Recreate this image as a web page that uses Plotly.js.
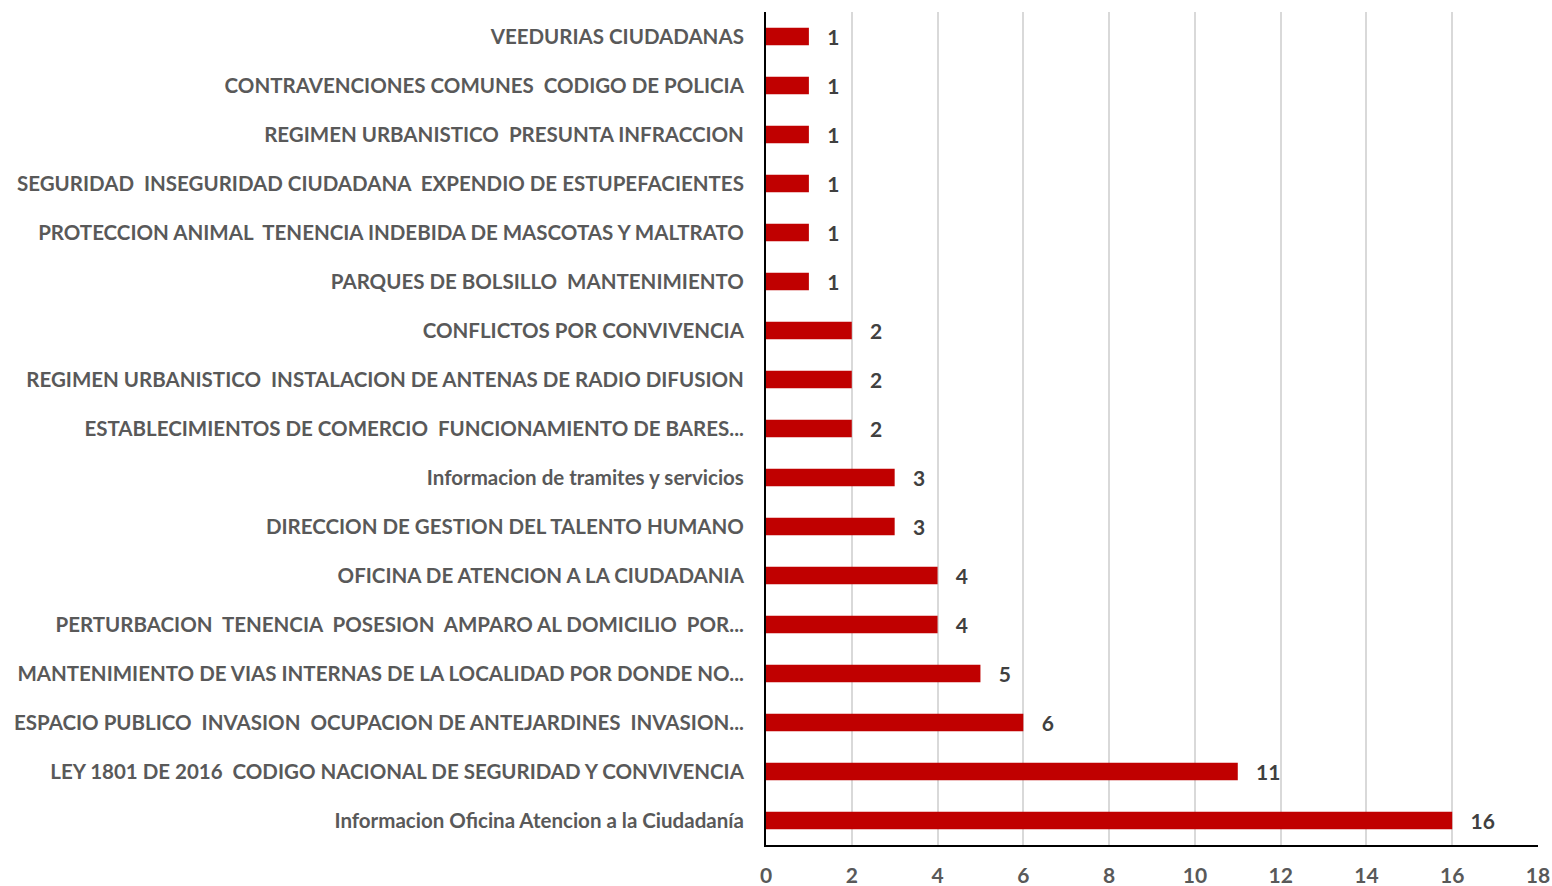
<!DOCTYPE html>
<html>
<head>
<meta charset="utf-8">
<script src="https://cdn.plot.ly/plotly-3.0.1.min.js"></script>
<style>html,body{margin:0;padding:0;background:#fff;}#chart{width:1552px;height:886px;}</style>
</head>
<body>
<div id="chart"></div>
<script>
// Categories listed top to bottom as shown
const categories = [
  "VEEDURIAS CIUDADANAS",
  "CONTRAVENCIONES COMUNES  CODIGO DE POLICIA",
  "REGIMEN URBANISTICO  PRESUNTA INFRACCION",
  "SEGURIDAD  INSEGURIDAD CIUDADANA  EXPENDIO DE ESTUPEFACIENTES",
  "PROTECCION ANIMAL  TENENCIA INDEBIDA DE MASCOTAS Y MALTRATO",
  "PARQUES DE BOLSILLO  MANTENIMIENTO",
  "CONFLICTOS POR CONVIVENCIA",
  "REGIMEN URBANISTICO  INSTALACION DE ANTENAS DE RADIO DIFUSION",
  "ESTABLECIMIENTOS DE COMERCIO  FUNCIONAMIENTO DE BARES...",
  "Informacion de tramites y servicios",
  "DIRECCION DE GESTION DEL TALENTO HUMANO",
  "OFICINA DE ATENCION A LA CIUDADANIA",
  "PERTURBACION  TENENCIA  POSESION  AMPARO AL DOMICILIO  POR...",
  "MANTENIMIENTO DE VIAS INTERNAS DE LA LOCALIDAD POR DONDE NO...",
  "ESPACIO PUBLICO  INVASION  OCUPACION DE ANTEJARDINES  INVASION...",
  "LEY 1801 DE 2016  CODIGO NACIONAL DE SEGURIDAD Y CONVIVENCIA",
  "Informacion Oficina Atencion a la Ciudadanía"
];
const values = [1, 1, 1, 1, 1, 1, 2, 2, 2, 3, 3, 4, 4, 5, 6, 11, 16];
const xTicks = [0, 2, 4, 6, 8, 10, 12, 14, 16, 18];

// preserve double spaces in SVG text
const displayCats = categories.map(c => c.replace(/  /g, "\u00a0 "));

const FONT = "Lato, 'Open Sans', sans-serif";

const trace = {
  type: "bar",
  orientation: "h",
  x: values,
  y: displayCats,
  marker: { color: "#C00000" },
  width: 0.36,
  text: values.map(String),
  texttemplate: "\u00a0\u00a0\u00a0%{text}",
  textposition: "outside",
  constraintext: "none",
  cliponaxis: false,
  textfont: { family: FONT, size: 21, color: "#404040", weight: "bold" },
  hoverinfo: "x+y"
};

const layout = {
  width: 1552,
  height: 886,
  margin: { l: 766, r: 14, t: 12, b: 41 },
  paper_bgcolor: "#ffffff",
  plot_bgcolor: "#ffffff",
  showlegend: false,
  font: { family: FONT, size: 20.5, color: "#595959", weight: "bold" },
  xaxis: {
    range: [0, 18],
    tickvals: xTicks,
    ticktext: xTicks.map(String),
    showgrid: true,
    gridcolor: "#D9D9D9",
    gridwidth: 2,
    zeroline: false,
    showline: true,
    linecolor: "#000000",
    linewidth: 2,
    ticks: "",
    ticklabelstandoff: 11,
    tickfont: { family: FONT, size: 21, color: "#595959", weight: "bold" },
    fixedrange: true
  },
  yaxis: {
    type: "category",
    autorange: "reversed",
    showgrid: false,
    zeroline: false,
    showline: true,
    linecolor: "#000000",
    linewidth: 2,
    ticks: "",
    ticklabelstandoff: 16,
    tickfont: { family: FONT, size: 20.5, color: "#595959", weight: "bold" },
    fixedrange: true
  }
};

Plotly.newPlot("chart", [trace], layout, { displayModeBar: false, staticPlot: true });
</script>
</body>
</html>
